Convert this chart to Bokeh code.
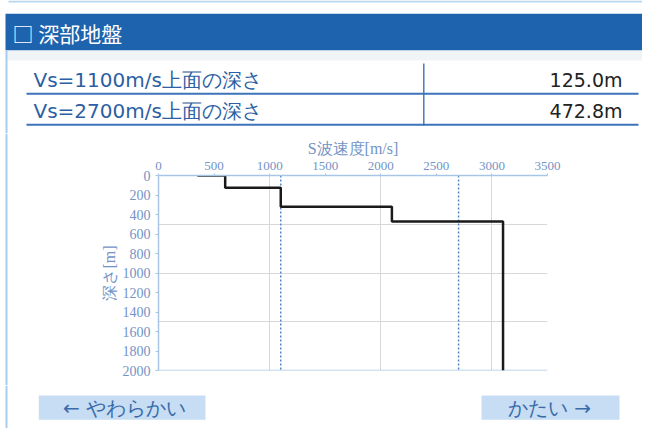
from bokeh.plotting import figure
from bokeh.layouts import column, row
from bokeh.models import Range1d, FixedTicker, Span, Label
from bokeh.embed import file_html
from bokeh.resources import INLINE

# ---------------- data ----------------
step_vs = [350, 600, 600, 1100, 1100, 2100, 2100, 3100, 3100]          # S-wave velocity [m/s]
step_depth = [0, 0, 125.0, 125.0, 320, 320, 472.8, 472.8, 2000]        # depth [m]
threshold_vs = [1100, 2700]
threshold_depth = [125.0, 472.8]
x_ticks = [0, 500, 1000, 1500, 2000, 2500, 3000, 3500]
y_ticks = [0, 200, 400, 600, 800, 1000, 1200, 1400, 1600, 1800, 2000]
x_grid = [1000, 2000, 3000]
y_grid = [500, 1000, 1500]
max_depth = 2000
header_title = "□ 深部地盤"
x_title = "S波速度[m/s]"
y_title = "深さ[m]"
soft_label = "← やわらかい"
hard_label = "かたい →"

# ---------------- styles ----------------
W = 642
H_TOP, H_MID, H_BOT = 133, 252, 43
STRIP_W = 20
AXIS_BLUE = "#a9c5e5"
LABEL_BLUE = "#7393c6"
TEXT_BLUE = "#2c5fa3"
LINE_BLUE = "#3d74b9"
BORDER_BLUE = "#a9cdee"


def decor_fig(w, h):
    f = figure(width=w, height=h, output_backend="svg", toolbar_location=None,
               x_range=Range1d(0, w), y_range=Range1d(h, 0),
               x_axis_type=None, y_axis_type=None, min_border=0,
               outline_line_color=None, background_fill_color="white",
               border_fill_color="white", frame_align=False)
    return f


def box(f, l, r, t, b, color):
    f.quad(left=[l], right=[r], top=[t], bottom=[b], fill_color=color,
           line_color=None)


def label(f, x, y, text, size, color, align="left", font="Noto Sans CJK JP"):
    f.add_layout(Label(x=x, y=y, text=text, text_font=font, text_font_size=size,
                       text_color=color, text_align=align,
                       text_baseline="middle"))


# ---------------- top: header + table ----------------
top = decor_fig(W, H_TOP)
box(top, 8, 642, 0, 2, "#b9d6ef")                 # bottom edge of previous panel
box(top, 5, 642, 13.3, 50, "#1e63ad")             # header bar
label(top, 12, 32.5, header_title, "21px", "white")
box(top, 5, 642, 50, 60, "#f1f4f7")               # light band under header
box(top, 5, 7, 50, H_TOP, BORDER_BLUE)            # panel left border
box(top, 26, 638, 92.3, 94.3, LINE_BLUE)
box(top, 26, 638, 123.3, 125.3, LINE_BLUE)
box(top, 422.6, 424, 63, 125.3, LINE_BLUE)
for i, (v, d) in enumerate(zip(threshold_vs, threshold_depth)):
    yc = 79.5 + i * 30.5
    label(top, 33, yc, f"Vs={v}m/s上面の深さ", "20px", TEXT_BLUE, font="DejaVu Sans")
    label(top, 622, yc, f"{d:.1f}m", "19px", "#222222", align="right", font="DejaVu Sans")

# ---------------- middle: chart ----------------
strip = decor_fig(STRIP_W, H_MID)
box(strip, 5, 7, 0, H_MID, BORDER_BLUE)

p = figure(width=W - STRIP_W, height=H_MID, output_backend="svg", toolbar_location=None,
           x_range=Range1d(0, 3500), y_range=Range1d(max_depth, 0),
           x_axis_location="above",
           min_border_left=138, min_border_top=42,
           min_border_right=95, min_border_bottom=15,
           outline_line_color=None, background_fill_color="white",
           border_fill_color="white", frame_align=False)

p.xgrid.ticker = FixedTicker(ticks=x_grid)
p.ygrid.ticker = FixedTicker(ticks=y_grid)
for g in (p.xgrid, p.ygrid):
    g.grid_line_color = "#d8d8d8"
    g.grid_line_width = 1

xa = p.xaxis[0]
xa.ticker = FixedTicker(ticks=x_ticks)
xa.axis_label = x_title
xa.axis_label_text_font = "Liberation Serif"
xa.axis_label_text_font_style = "normal"
xa.axis_label_text_font_size = "16px"
xa.axis_label_text_color = LABEL_BLUE
xa.axis_label_standoff = 2
xa.major_label_text_font = "Liberation Serif"
xa.major_label_text_font_size = "13px"
xa.major_label_text_color = LABEL_BLUE
xa.major_label_standoff = 4
xa.major_tick_out = 2
xa.major_tick_in = 0
xa.minor_tick_out = 0
xa.minor_tick_in = 0
xa.axis_line_color = AXIS_BLUE
xa.axis_line_width = 1.5
xa.major_tick_line_color = AXIS_BLUE

ya = p.yaxis[0]
ya.ticker = FixedTicker(ticks=y_ticks)
ya.axis_label = y_title
ya.axis_label_text_font = "Liberation Serif"
ya.axis_label_text_font_style = "normal"
ya.axis_label_text_font_size = "16px"
ya.axis_label_text_color = LABEL_BLUE
ya.axis_label_standoff = 2
ya.major_label_text_font = "Liberation Serif"
ya.major_label_text_font_size = "14px"
ya.major_label_text_color = LABEL_BLUE
ya.major_label_standoff = 5
ya.major_tick_out = 3
ya.major_tick_in = 0
ya.minor_tick_out = 0
ya.minor_tick_in = 0
ya.axis_line_color = AXIS_BLUE
ya.axis_line_width = 1.5
ya.major_tick_line_color = AXIS_BLUE

p.add_layout(Span(location=max_depth, dimension="width", line_color=AXIS_BLUE,
                  line_width=1.5, level="underlay"))
for v in threshold_vs:
    p.add_layout(Span(location=v, dimension="height", line_color="#4f86c6",
                      line_dash="2 2", line_width=1.5, level="underlay"))

p.line(step_vs, step_depth, line_color="#1a1a1a", line_width=2.5)

# ---------------- bottom: buttons ----------------
bot = decor_fig(W, H_BOT)
box(bot, 5, 7, 0, H_BOT, BORDER_BLUE)
box(bot, 38.3, 205, 10, 34.3, "#c6ddf3")
box(bot, 481, 619, 10, 34.3, "#c6ddf3")
label(bot, 124, 22, soft_label, "20px", "#3a6aa9", align="center", font="DejaVu Sans")
label(bot, 549, 22, hard_label, "20px", "#3a6aa9", align="center", font="DejaVu Sans")

layout = column(top, row(strip, p), bot)
open("out.html", "w").write(file_html(layout, INLINE))
